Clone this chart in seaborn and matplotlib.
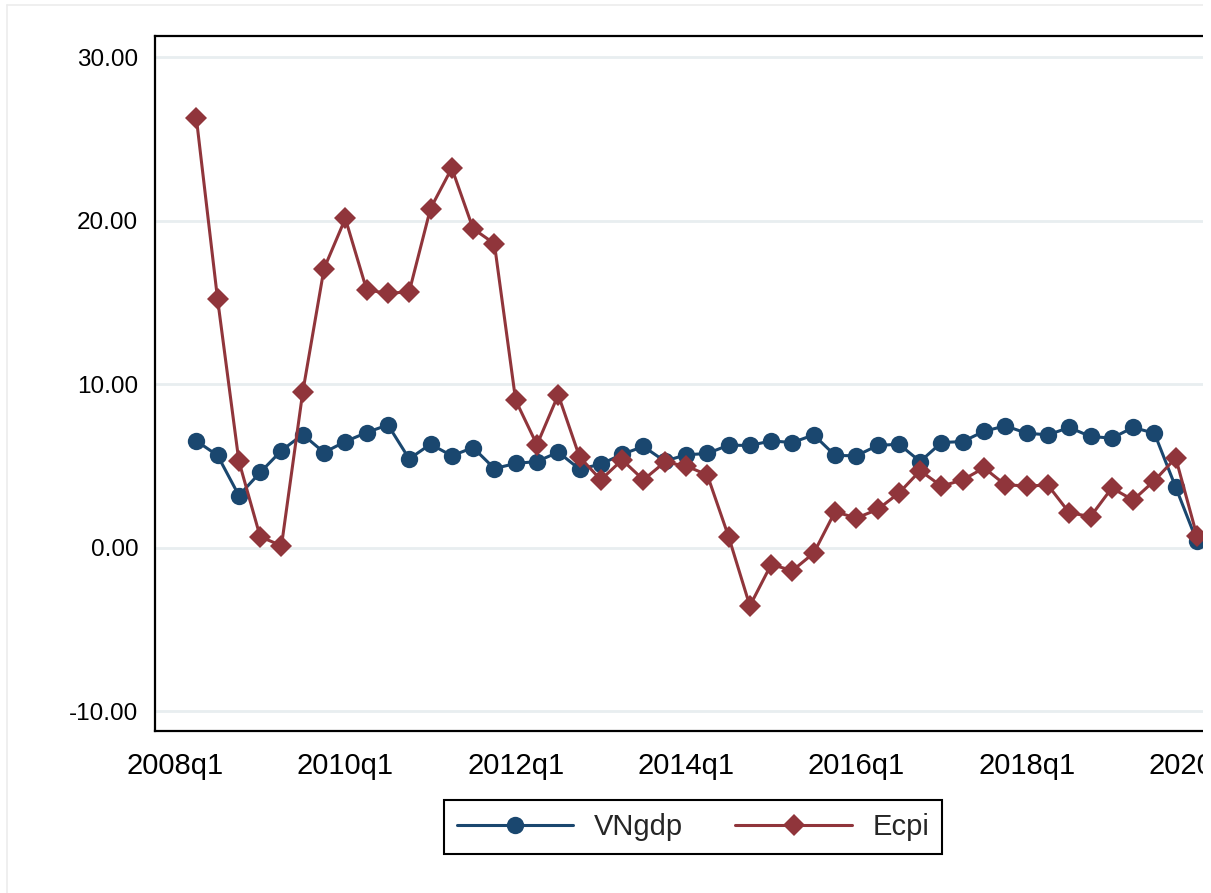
import numpy as np
import pandas as pd
import matplotlib
matplotlib.use("Agg")
import matplotlib.pyplot as plt
from matplotlib.patches import Rectangle
from matplotlib.lines import Line2D
import seaborn as sns

# Quarterly series, 2008q2 .. 2020q1
quarters = [f"{y}q{q}" for y in range(2008, 2021) for q in range(1, 5)][1:49]

vngdp = [6.54, 5.65, 3.20, 4.61, 5.95, 6.93, 5.83, 6.50, 7.05, 7.52,
         5.44, 6.34, 5.63, 6.13, 4.85, 5.16, 5.28, 5.85, 4.81, 5.12,
         5.72, 6.20, 5.30, 5.69, 5.77, 6.28, 6.26, 6.54, 6.44, 6.91,
         5.65, 5.63, 6.26, 6.34, 5.28, 6.44, 6.50, 7.13, 7.46, 7.01,
         6.91, 7.36, 6.81, 6.71, 7.36, 7.01, 3.71, 0.39]

ecpi = [26.30, 15.20, 5.30, 0.68, 0.13, 9.53, 17.08, 20.14, 15.78, 15.56,
        15.66, 20.75, 23.22, 19.52, 18.60, 9.02, 6.30, 9.36, 5.56, 4.16,
        5.38, 4.16, 5.24, 5.01, 4.46, 0.69, -3.55, -1.02, -1.39, -0.32,
        2.21, 1.82, 2.35, 3.35, 4.72, 3.77, 4.16, 4.89, 3.85, 3.79,
        3.83, 2.15, 1.91, 3.66, 2.92, 4.11, 5.50, 0.72]

x_tick_labels = ["2008q1", "2010q1", "2012q1", "2014q1", "2016q1", "2018q1", "2020q1"]
y_ticks = [-10, 0, 10, 20, 30]

# quarter index, 2008q1 = 0
t = np.arange(1, len(quarters) + 1)
df = pd.DataFrame({"t": t, "quarter": quarters, "VNgdp": vngdp, "Ecpi": ecpi})

sns.set_style("white")
plt.rcParams["font.family"] = ["Liberation Sans", "DejaVu Sans"]

W, H = 1211, 893
fig = plt.figure(figsize=(W / 100, H / 100), dpi=100)
fig.patch.set_facecolor("white")

ax_left, ax_right, ax_top, ax_bottom = 155, 1217, 36, 731
ax = fig.add_axes([ax_left / W, 1 - ax_bottom / H,
                   (ax_right - ax_left) / W, (ax_bottom - ax_top) / H])

blue = "#1a476f"
red = "#90353b"

sns.lineplot(data=df, x="t", y="VNgdp", ax=ax, color=blue, lw=2.2,
             marker="o", markersize=12.5, markeredgewidth=0,
             markeredgecolor=blue, label="VNgdp", legend=False, zorder=3)
sns.lineplot(data=df, x="t", y="Ecpi", ax=ax, color=red, lw=2.2,
             marker="D", markersize=11, markeredgewidth=0,
             markeredgecolor=red, label="Ecpi", legend=False, zorder=4)

ax.set_xlim(-0.94, 48.94)
ax.set_ylim(-11.2, 31.3)
ax.set_xticks(np.arange(0, 49, 8))
ax.set_xticklabels(x_tick_labels, fontsize=21)
ax.set_yticks(y_ticks)
ax.set_yticklabels([f"{v:.2f}" for v in y_ticks], fontsize=17.5)
ax.set_xlabel("")
ax.set_ylabel("")

for y in y_ticks:
    ax.axhline(y, color="#e8eef0", lw=2, zorder=1)

for side in ["left", "bottom", "top", "right"]:
    ax.spines[side].set_visible(True)
    ax.spines[side].set_color("black")
    ax.spines[side].set_linewidth(1.6)

ax.tick_params(axis="both", direction="out", length=7, width=1.3,
               color="black", labelcolor="black")
ax.tick_params(axis="x", pad=8)
ax.tick_params(axis="y", pad=5)

# outer graph-region border
fig.add_artist(Line2D([7 / W, 7 / W], [0, 1 - 5 / H], transform=fig.transFigure,
                      color="#ececec", lw=1.2))
fig.add_artist(Line2D([7 / W, 1], [1 - 5 / H, 1 - 5 / H], transform=fig.transFigure,
                      color="#ececec", lw=1.2))

# right margin strip
fig.add_artist(Rectangle((1203 / W, 0), 8 / W, 1, transform=fig.transFigure,
                         facecolor="white", edgecolor="none", zorder=10))

handles = [Line2D([], [], color=blue, lw=2.2, marker="o", markersize=12.5, markeredgewidth=0),
           Line2D([], [], color=red, lw=2.2, marker="D", markersize=11, markeredgewidth=0)]
leg = fig.legend(handles, ["VNgdp", "Ecpi"], loc="center",
                 bbox_to_anchor=(693 / W, 1 - 827 / H), ncol=2, fontsize=21,
                 frameon=True, fancybox=False, edgecolor="black", framealpha=1,
                 handlelength=4.0, handletextpad=0.7, columnspacing=1.8,
                 borderpad=0.45, borderaxespad=0)
leg.get_frame().set_linewidth(1.5)

fig.savefig("out.png", dpi=100, facecolor="white")
